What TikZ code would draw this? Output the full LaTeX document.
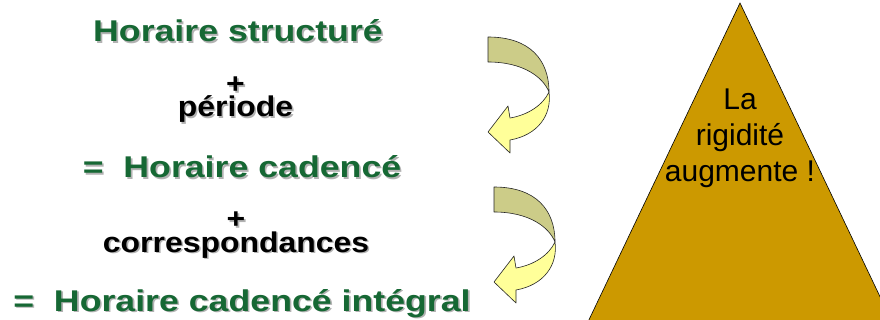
\documentclass[tikz,border=0pt]{standalone}
\usepackage{fontspec}
\setmainfont{Liberation Sans}
\newfontfamily\gfont[FakeStretch=1.19]{Liberation Sans}
\newfontfamily\bfont[FakeStretch=1.12]{Liberation Sans}
\definecolor{hgreen}{RGB}{22,104,52}
\definecolor{gold}{RGB}{204,153,0}
\definecolor{ribback}{RGB}{204,204,136}
\definecolor{ribfront}{RGB}{255,255,153}
\newcommand\withshadow[1]{\rlap{\color{black!30}\raisebox{-1.6pt}{\hspace*{1.6pt}#1}}#1}
\tikzset{
  gtxt/.style={anchor=base, inner sep=0, text=hgreen, font=\gfont\bfseries\fontsize{30}{36}\selectfont},
  btxt/.style={anchor=base, inner sep=0, text=black, align=center, font=\bfont\bfseries\fontsize{28.5}{21}\selectfont},
  ttxt/.style={anchor=base, inner sep=0, text=black, font=\fontsize{30}{36}\selectfont},
  ribbon/.style={draw=black!85, line width=0.6pt, line join=round},
  pics/twistarrow/.style={code={
    \path[ribbon, fill=ribback] (0,0) .. controls (42,0) and (61,23) .. (61,55)
       .. controls (55,40) and (35,25) .. (0,25) -- cycle;
    \path[ribbon, fill=ribfront] (61,55) .. controls (64,78) and (50,98) .. (22,103)
       -- (22,116) -- (0,95) -- (20,69) -- (22,81)
       .. controls (40,78) and (55,68) .. (61,55) -- cycle;
  }}
}
\begin{document}
\begin{tikzpicture}[x=1pt, y=-1pt]
\useasboundingbox (0,0) rectangle (880,320);
\fill[white] (0,0) rectangle (880,320);
% triangle
\begin{scope}
\clip (0,0) rectangle (880,320);
\draw[fill=gold, line width=0.6pt] (740,3) -- (586,326) -- (894,326) -- cycle;
\end{scope}
\node[ttxt] (t1) at (740,110) {La};
\node[ttxt] (t2) at (740,146) {rigidité};
\node[ttxt] (t3) at (740,182) {augmente !};
% texts
\node[gtxt] (h1) at (238,42) {\withshadow{Horaire structuré}};
\node[btxt] (per) at (235.5,117) {\withshadow{+}\\\withshadow{période}};
\node[gtxt] (h2) at (242,178) {\withshadow{=~~Horaire cadencé}};
\node[btxt] (cor) at (236,252) {\withshadow{+}\\\withshadow{correspondances}};
\node[gtxt] (h3) at (242,311) {\withshadow{=~~Horaire cadencé intégral}};
% arrows
\pic at (488,37) {twistarrow};
\pic at (494,187) {twistarrow};
\end{tikzpicture}
\end{document}
